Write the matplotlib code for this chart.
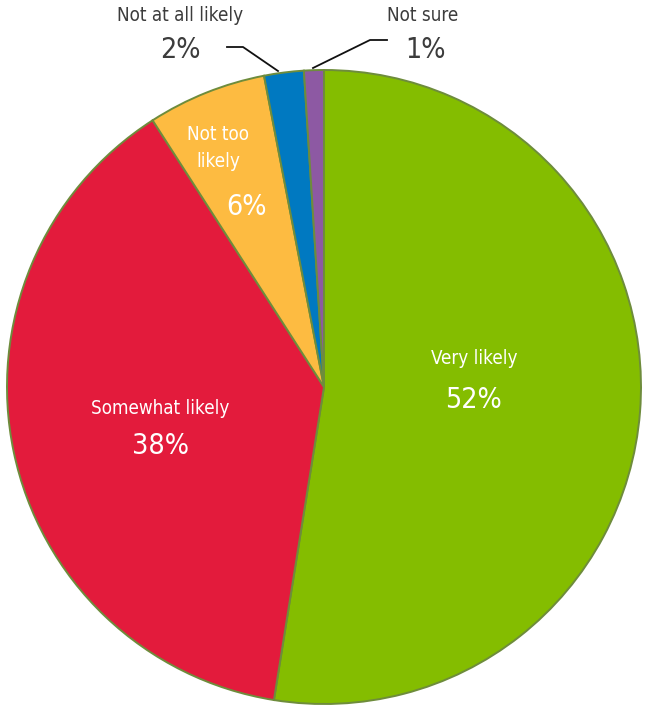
import matplotlib.pyplot as plt

# survey answers, clockwise from 12 o'clock
labels = ['Very likely', 'Somewhat likely', 'Not too likely', 'Not at all likely', 'Not sure']
values = [52, 38, 6, 2, 1]
colors = ['#84bd00', '#e31b3c', '#fdbb41', '#0079c1', '#8d59a3']

plt.rcParams['font.family'] = ['DejaVu Sans']
plt.rcParams['font.stretch'] = 'condensed'

W, H = 648, 711
cx, cy, r = 324, 387, 317


def px(x, y):
    # pixel position (from top-left) -> data coords of the unit pie
    return (x - cx) / r, (cy - y) / r


fig = plt.figure(figsize=(W / 100, H / 100), dpi=100)
ax = fig.add_axes([0, 0, 1, 1])
ax.pie(values, colors=colors, startangle=90, counterclock=False,
       wedgeprops=dict(edgecolor='#6e8c3c', linewidth=1.4))
ax.set_xlim(px(0, 0)[0], px(W, 0)[0])
ax.set_ylim(px(0, H)[1], px(0, 0)[1])
ax.set_aspect('auto')
ax.axis('off')

white = '#ffffff'
grey = '#3c3c3c'
small, big = 13.5, 20.5

# inside labels
ax.text(*px(474, 358), 'Very likely', color=white, fontsize=small, ha='center', va='center')
ax.text(*px(473, 400), '52%', color=white, fontsize=big, ha='center', va='center')
ax.text(*px(160, 408), 'Somewhat likely', color=white, fontsize=small, ha='center', va='center')
ax.text(*px(160, 446), '38%', color=white, fontsize=big, ha='center', va='center')
ax.text(*px(218, 148), 'Not too\nlikely', color=white, fontsize=small, ha='center', va='center',
        linespacing=1.55)
ax.text(*px(246, 207), '6%', color=white, fontsize=big, ha='center', va='center')

# outside labels with leader lines
ax.text(*px(180, 15), 'Not at all likely', color=grey, fontsize=small, ha='center', va='center')
ax.text(*px(180, 50), '2%', color=grey, fontsize=big, ha='center', va='center')
ax.text(*px(423, 15), 'Not sure', color=grey, fontsize=small, ha='center', va='center')
ax.text(*px(426, 50), '1%', color=grey, fontsize=big, ha='center', va='center')

for pts in ([(227, 47), (243, 47), (278, 71)], [(387, 40), (370, 40), (313, 68)]):
    xs, ys = zip(*[px(x, y) for x, y in pts])
    ax.plot(xs, ys, color='#111111', linewidth=1.3, clip_on=False)

fig.savefig('out.png', dpi=100)
